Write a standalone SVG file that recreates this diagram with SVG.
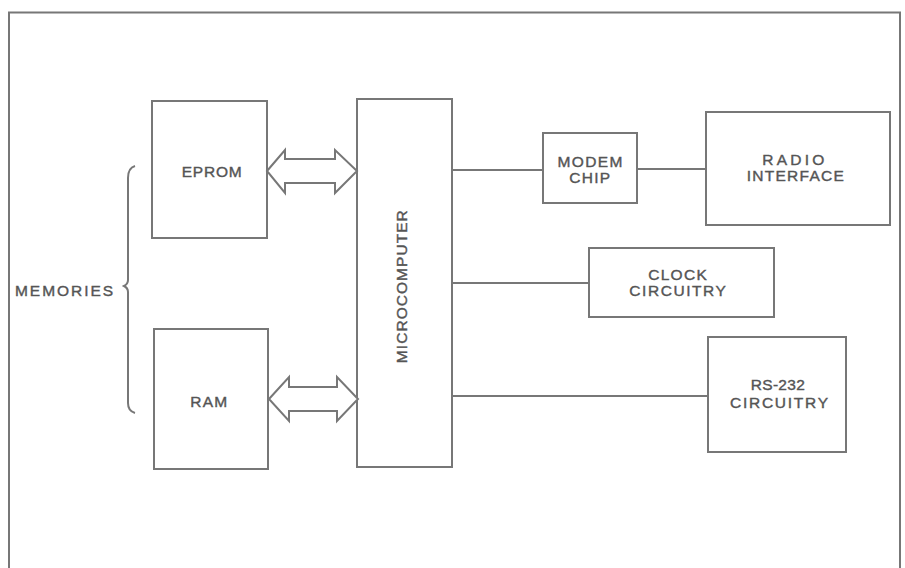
<svg xmlns="http://www.w3.org/2000/svg" width="905" height="568" viewBox="0 0 905 568">
<style>
.box{fill:none;stroke:#777;stroke-width:2}
.ln{fill:none;stroke:#777;stroke-width:2}
.ar{fill:#fff;stroke:#777;stroke-width:2;stroke-linejoin:miter}
text{font-family:"Liberation Sans",Arial,sans-serif;font-size:15.5px;fill:#555;stroke:#555;stroke-width:0.4;text-anchor:middle}
</style>
<rect width="905" height="568" fill="#fff"/>
<g id="frame"><path class="ln" d="M9,568 V12.5 H900 V568"/></g>
<g id="memories">
<path class="ln" d="M135,166 Q128,168 128,178 V280 Q128,284 124,286 Q128,288 128,292 V403 Q128,411 135,413"/>
<text x="64" y="296" textLength="98" lengthAdjust="spacing">MEMORIES</text>
</g>
<g id="eprom"><rect class="box" x="152" y="101" width="115" height="137"/><text x="211.7" y="177" textLength="60" lengthAdjust="spacing">EPROM</text></g>
<g id="ram"><rect class="box" x="154" y="329" width="114" height="140"/><text x="208.7" y="407" textLength="37" lengthAdjust="spacing">RAM</text></g>
<g id="microcomputer"><rect class="box" x="357" y="99" width="95" height="368"/><text transform="translate(406.5,286.7) rotate(-90)" x="0" y="0" textLength="153" lengthAdjust="spacing">MICROCOMPUTER</text></g>
<g id="modem"><rect class="box" x="543" y="133" width="94" height="70"/><text x="590" y="166.7" textLength="65" lengthAdjust="spacing">MODEM</text><text x="589.7" y="183.3" textLength="40.7" lengthAdjust="spacing">CHIP</text></g>
<g id="radio"><rect class="box" x="706" y="112" width="184" height="113"/><text x="793.3" y="165" textLength="62" lengthAdjust="spacing">RADIO</text><text x="795.3" y="181" textLength="97" lengthAdjust="spacing">INTERFACE</text></g>
<g id="clock"><rect class="box" x="589" y="248" width="185" height="69"/><text x="677.5" y="280" textLength="58.5" lengthAdjust="spacing">CLOCK</text><text x="677.6" y="296" textLength="96.5" lengthAdjust="spacing">CIRCUITRY</text></g>
<g id="rs232"><rect class="box" x="708" y="337" width="138" height="115"/><text x="777.8" y="390" textLength="54" lengthAdjust="spacing">RS-232</text><text x="779" y="408" textLength="98" lengthAdjust="spacing">CIRCUITRY</text></g>
<g id="connectors">
<polygon class="ar" points="267,171 285,150 285,159 335,159 335,150 357,171 335,193 335,183 285,183 285,193"/>
<polygon class="ar" points="269,399 289,377 289,387 337,387 337,377 358,399 337,421 337,411 289,411 289,421"/>
<line class="ln" x1="452" y1="170" x2="543" y2="170"/>
<line class="ln" x1="637" y1="169" x2="706" y2="169"/>
<line class="ln" x1="452" y1="283" x2="589" y2="283"/>
<line class="ln" x1="452" y1="396" x2="708" y2="396"/>
</g>
</svg>
